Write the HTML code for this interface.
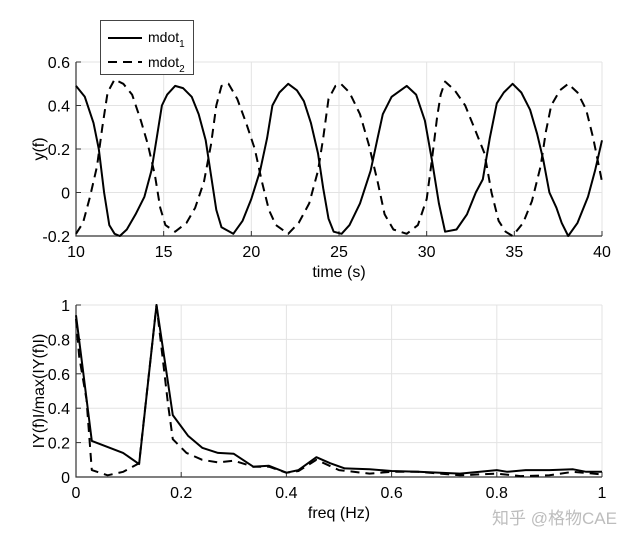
<!DOCTYPE html>
<html><head><meta charset="utf-8"><style>
body{margin:0;background:#fff;}
svg{display:block;font-family:"Liberation Sans","Noto Sans CJK SC",sans-serif;}
</style></head><body>
<svg id="c" width="640" height="544" viewBox="0 0 640 544">
<g id="top"></g>
<g id="bot"></g>
<g>
<rect x="100.5" y="20.5" width="93" height="54" fill="#fff" stroke="#444" stroke-width="1"/>
<g><line x1="108" y1="38" x2="142" y2="38" stroke="#000" stroke-width="2"/><text x="148" y="42" font-size="14">mdot<tspan font-size="10" dy="5">1</tspan></text></g>
<g><line x1="108" y1="62" x2="142" y2="62" stroke="#000" stroke-width="2" stroke-dasharray="9,6"/><text x="148" y="67" font-size="14">mdot<tspan font-size="10" dy="5">2</tspan></text></g>
</g>
<text x="492" y="524" font-size="17" fill="#bdbdbd">知乎 @格物CAE</text>
</svg>
<script>
const tTime=[10,10.5,11,11.3,11.6,11.9,12.2,12.5,12.9,13.4,13.9,14.3,14.6,14.9,15.2,15.65,16.1,16.6,17.0,17.4,17.7,18.0,18.3,18.97,19.5,20.0,20.5,20.9,21.2,21.6,22.1,22.6,23.0,23.4,23.8,24.1,24.4,24.7,25.15,25.6,26.2,26.8,27.2,27.5,28.0,28.86,29.4,29.9,30.3,30.7,31.05,31.7,32.3,32.8,33.2,33.6,34.0,34.4,34.9,35.4,35.9,36.3,36.65,37.0,37.4,37.7,38.07,38.6,39.2,39.6,40];
const mdot1=[0.49,0.44,0.32,0.2,0.0,-0.15,-0.19,-0.2,-0.17,-0.1,-0.02,0.1,0.25,0.4,0.45,0.49,0.48,0.44,0.36,0.24,0.08,-0.08,-0.16,-0.19,-0.13,-0.03,0.1,0.25,0.4,0.46,0.5,0.47,0.42,0.32,0.18,0.02,-0.12,-0.18,-0.19,-0.15,-0.05,0.1,0.25,0.36,0.44,0.49,0.45,0.33,0.15,-0.05,-0.18,-0.17,-0.1,0.0,0.06,0.25,0.41,0.46,0.5,0.46,0.38,0.27,0.15,0.0,-0.07,-0.14,-0.2,-0.14,-0.02,0.1,0.24];
const tTime2=[10,10.4,10.8,11.2,11.5,11.8,12.2,12.7,13.2,13.7,14.1,14.5,14.8,15.1,15.65,16.3,16.8,17.3,17.7,18.0,18.3,18.7,19.2,19.7,20.2,20.6,21.0,21.4,22.1,22.7,23.3,23.8,24.1,24.4,24.8,25.1,25.6,26.2,26.7,27.2,27.6,28.1,28.86,29.5,30.0,30.3,30.6,30.8,31.05,31.6,32.2,32.8,33.3,33.7,34.1,34.5,34.9,35.5,36.0,36.5,36.8,37.1,37.6,38.07,38.6,39.1,39.5,40];
const mdot2=[-0.19,-0.14,-0.02,0.12,0.3,0.46,0.52,0.5,0.45,0.33,0.22,0.08,-0.07,-0.15,-0.18,-0.14,-0.07,0.05,0.22,0.4,0.49,0.5,0.43,0.32,0.2,0.05,-0.08,-0.15,-0.19,-0.14,-0.05,0.1,0.25,0.43,0.49,0.5,0.46,0.36,0.22,0.05,-0.1,-0.17,-0.19,-0.15,-0.03,0.15,0.35,0.45,0.51,0.47,0.4,0.28,0.18,0.0,-0.13,-0.18,-0.2,-0.14,-0.04,0.12,0.28,0.4,0.47,0.5,0.46,0.38,0.25,0.05];
const fFreq1=[0,0.014,0.03,0.0895,0.12,0.153,0.184,0.213,0.24,0.27,0.3,0.337,0.367,0.4,0.423,0.457,0.483,0.511,0.558,0.6,0.65,0.73,0.768,0.8,0.82,0.855,0.9,0.945,0.97,1];
const Y1=[0.94,0.6,0.21,0.14,0.075,1.0,0.36,0.24,0.17,0.14,0.135,0.06,0.065,0.025,0.04,0.115,0.08,0.05,0.045,0.035,0.03,0.02,0.03,0.04,0.03,0.04,0.04,0.045,0.03,0.03];
const fFreq2=[0,0.006,0.02,0.03,0.06,0.09,0.12,0.153,0.175,0.184,0.21,0.24,0.27,0.3,0.337,0.367,0.4,0.423,0.457,0.5,0.558,0.6,0.65,0.73,0.8,0.845,0.9,0.945,1];
const Y2=[0.92,0.7,0.45,0.04,0.01,0.03,0.08,1.0,0.42,0.22,0.14,0.1,0.085,0.095,0.06,0.06,0.025,0.035,0.1,0.04,0.02,0.03,0.03,0.01,0.02,0.005,0.01,0.03,0.015];
const topXTicks=[10,15,20,25,30,35,40], topYTicks=[-0.2,0,0.2,0.4,0.6];
const botXTicks=[0,0.2,0.4,0.6,0.8,1], botYTicks=[0,0.2,0.4,0.6,0.8,1];
const NS="http://www.w3.org/2000/svg";
function mk(p,tag,a){const e=document.createElementNS(NS,tag);for(const k in a)e.setAttribute(k,a[k]);p.appendChild(e);return e;}
function plot(g,L,R,T,B,x0,x1,y0,y1,xt,yt,series,xlab,ylab,ylx,fmt){
 const sx=v=>L+(v-x0)/(x1-x0)*(R-L), sy=v=>B-(v-y0)/(y1-y0)*(B-T);
 for(const v of xt){const l=mk(g,'line',{x1:sx(v),x2:sx(v),y1:T,y2:B,stroke:'#e3e3e3','stroke-width':1});
  
  
  const tk=mk(g,'line',{x1:sx(v),x2:sx(v),y1:B,y2:B-5,stroke:'#333'});
  
  
  const t=mk(g,'text',{x:sx(v),y:B+21,'font-size':16,'text-anchor':'middle'});t.textContent=fmt(v);
  
  }
 for(const v of yt){const l=mk(g,'line',{x1:L,x2:R,y1:sy(v),y2:sy(v),stroke:'#e3e3e3','stroke-width':1});
  
  
  const tk=mk(g,'line',{x1:L,x2:L+5,y1:sy(v),y2:sy(v),stroke:'#333'});
  
  
  const t=mk(g,'text',{x:L-6,y:sy(v)+6,'font-size':16,'text-anchor':'end'});t.textContent=fmt(v);
  
  }
 const ax=mk(g,'path',{d:`M${L},${T}V${B}H${R}`,fill:'none',stroke:'#333','stroke-width':1.2});
 
 
 for(const s of series){const d=s.x.map((v,i)=>(i?'L':'M')+sx(v).toFixed(1)+','+sy(s.y[i]).toFixed(1)).join('');
  const p=mk(g,'path',{d,fill:'none',stroke:'#000','stroke-width':2,'stroke-dasharray':s.dash||'none','stroke-linejoin':'round'});
  
  }
 const xl=mk(g,'text',{x:(L+R)/2,y:B+41,'font-size':16,'text-anchor':'middle'});xl.textContent=xlab;
 
 
 const yl=mk(g,'text',{x:0,y:0,'font-size':16,'text-anchor':'middle',transform:`translate(${ylx},${(T+B)/2}) rotate(-90)`});yl.textContent=ylab;
 
 
}
const f1=v=>(Math.abs(v)<1e-9?'0':String(+v.toFixed(1)));
plot(document.getElementById('top'),76,602,62,236,10,40,-0.2,0.6,topXTicks,topYTicks,
 [{x:tTime,y:mdot1,name:'line-mdot1'},{x:tTime2,y:mdot2,name:'line-mdot2',dash:'9,6'}],'time (s)','y(f)',44,f1);
plot(document.getElementById('bot'),76,602,305,477,0,1,0,1,botXTicks,botYTicks,
 [{x:fFreq1,y:Y1,name:'line-spectrum-mdot1'},{x:fFreq2,y:Y2,name:'line-spectrum-mdot2',dash:'9,6'}],'freq (Hz)','IY(f)I/max(IY(f)I)',44,f1);
</script>
</body></html>
